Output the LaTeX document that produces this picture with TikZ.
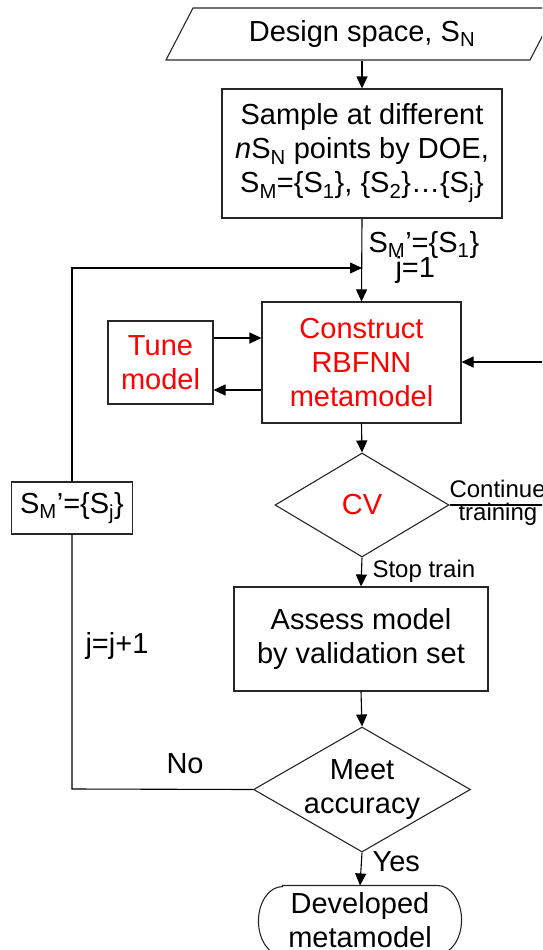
\documentclass[tikz,border=0pt]{standalone}
\usepackage{fontspec}
\setmainfont{Liberation Sans}
\usetikzlibrary{arrows.meta,shapes.geometric}
\definecolor{accent}{RGB}{255,0,0}
\begin{document}
\begin{tikzpicture}[x=1pt,y=-1pt,
  font=\fontsize{29}{34}\selectfont,
  line width=1.1pt,
  arr/.style={-{Triangle[length=12pt,width=11pt]}},
  stepbox/.style={draw=black!85, inner sep=0pt, align=center},
  decision/.style={diamond, draw=black!85, inner sep=0pt},
  txt/.style={inner sep=0pt, align=center},
  lbl/.style={inner sep=0pt, anchor=base west},
  small/.style={font=\fontsize{24}{28}\selectfont},
  hot/.style={text=accent}]
\useasboundingbox (0,0) rectangle (542,950);
\clip (0,0) rectangle (542,950);

% input: design space (parallelogram)
\draw[draw=black!85] (166,60) -- (193,8) -- (557,8) -- (530,60) -- cycle;
\node[txt, minimum height=52pt] (design) at (362,34) {Design space, S\textsubscript{N}};

% process boxes
\node[stepbox, minimum width=280pt, minimum height=129pt] (sample) at (362,153.5)
  {Sample at different\\\textit{n}S\textsubscript{N} points by DOE,\\S\textsubscript{M}=\{S\textsubscript{1}\}, \{S\textsubscript{2}\}…\{S\textsubscript{j}\}};
\node[stepbox, hot, minimum width=199pt, minimum height=121pt] (construct) at (361.5,362.5)
  {Construct\\RBFNN\\metamodel};
\node[stepbox, hot, minimum width=105pt, minimum height=83pt] (tune) at (160.5,362.5)
  {Tune\\model};
\node[stepbox, minimum width=121pt, minimum height=52pt] (smj) at (72,508)
  {S\textsubscript{M}’=\{S\textsubscript{j}\}};
\node[stepbox, minimum width=254pt, minimum height=104pt] (assess) at (361,639)
  {Assess model\\by validation set};

% decisions
\node[decision, minimum width=174pt, minimum height=104pt] (cv) at (362,505) {};
\node[txt, hot] (cvtext) at (cv) {CV};
\node[decision, minimum width=217pt, minimum height=125pt] (meet) at (362,789.5) {};
\node[txt] (meettext) at (meet) {Meet\\accuracy};

% terminal
\node[txt, minimum width=202pt, minimum height=69pt] (dev) at (360,920.5) {Developed\\metamodel};
\draw[draw=black!85] ([xshift=24pt]dev.north west) -- ([xshift=-24pt]dev.north east)
  arc[start angle=90, end angle=-90, x radius=24pt, y radius=34.5pt]
  -- ([xshift=24pt]dev.south west)
  arc[start angle=270, end angle=90, x radius=24pt, y radius=34.5pt] -- cycle;

% loop points
\coordinate (join) at (362,268);
\coordinate (loopTop) at (72,268);
\coordinate (loopBot) at (72,789);
\coordinate (rightOut) at (570,505);
\coordinate (rightIn) at (570,362);

% main flow
\draw[arr] (design.south) -- (sample.north);
\draw[arr] (sample.south) -- (construct.north);
\draw[arr] (construct.south) -- (cv.north);
\draw[arr] (cv.south) -- (assess.north);
\draw[arr] (assess.south) -- (meet.north);
\draw[arr] (meet.south) -- (dev.north);

% tuning loop
\draw[arr] (tune.east |- 0,338) -- (construct.west |- 0,338);
\draw[arr] (construct.west |- 0,390) -- (tune.east |- 0,390);

% continue-training loop
\draw (cv.east) -- (rightOut) -- (rightIn);
\draw[arr] (rightIn) -- (construct.east |- rightIn);

% resampling loop
\draw (meet.west) -- (loopBot) -- (smj.south);
\draw[arr] (smj.north) -- (loopTop) -- (join);

% labels
\node[lbl] (lsm) at (368,252) {S\textsubscript{M}’=\{S\textsubscript{1}\}};
\node[lbl] (lj1) at (395,277) {j=1};
\node[lbl, small] (lcont) at (449,497) {Continue};
\node[lbl, small] (ltrain) at (458,520) {training};
\node[lbl, small] (lstop) at (372,577) {Stop train};
\node[lbl] (ljj) at (85,653) {j=j+1};
\node[lbl] (lno) at (166,773) {No};
\node[lbl] (lyes) at (372,871) {Yes};
\end{tikzpicture}
\end{document}
